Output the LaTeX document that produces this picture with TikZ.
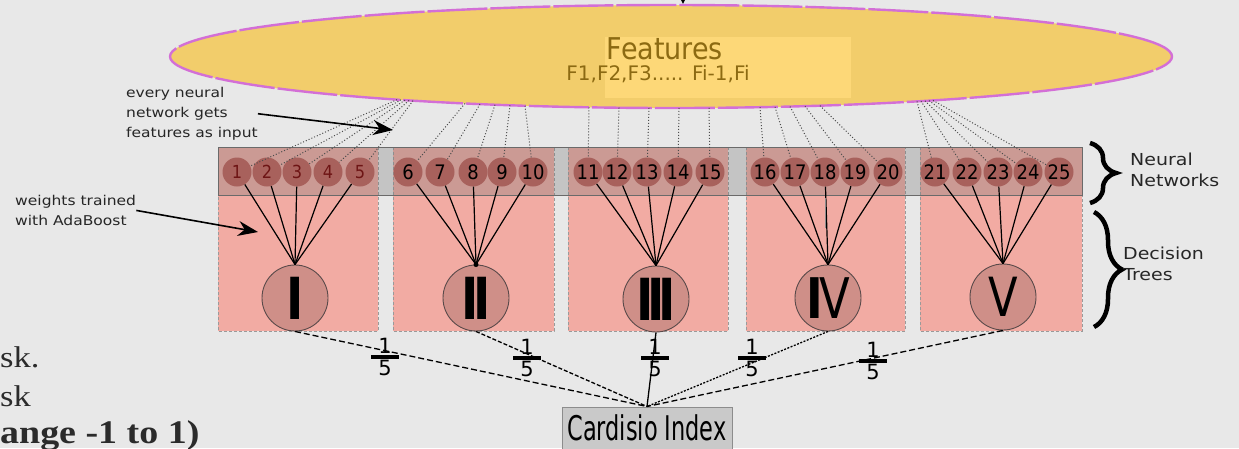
\documentclass[tikz,border=0pt]{standalone}
\usepackage{fontspec}
\setmainfont{DejaVu Sans}
\newfontfamily\annfont[FakeStretch=1.15]{DejaVu Sans}
\newfontfamily\condfont[FakeStretch=0.9]{DejaVu Sans}
\newfontfamily\romfont[FakeStretch=0.8]{DejaVu Sans}
\newfontfamily\tallfont[FakeStretch=0.66]{DejaVu Sans}
\newfontfamily\slidefont[FakeStretch=1.15]{Liberation Serif}
\usetikzlibrary{arrows.meta,decorations.pathreplacing,calc,shapes.geometric}
\definecolor{bgc}{HTML}{E8E8E8}
\definecolor{ellfill}{HTML}{F2CD6B}
\definecolor{ellline}{HTML}{D36FD6}
\definecolor{hlc}{HTML}{FDD878}
\definecolor{feattext}{HTML}{8C6A12}
\definecolor{treebg}{HTML}{F2ABA3}
\definecolor{boxline}{HTML}{9A9A9A}
\definecolor{stripline}{HTML}{6A6A6A}
\definecolor{nnfill}{HTML}{A8615C}
\definecolor{nnred}{HTML}{6E1515}
\definecolor{treefill}{HTML}{CF8F88}
\definecolor{treeline}{HTML}{5A4A4A}
\definecolor{idxfill}{HTML}{C9C9C9}
\definecolor{idxline}{HTML}{8C8C8C}
\definecolor{slidetext}{HTML}{2B2B2B}
\tikzset{
  treebox/.style={fill=treebg, draw=boxline, densely dashed, line width=0.8pt},
  nn/.style={circle, fill=nnfill, inner sep=0pt, minimum size=29pt,
    font=\condfont\fontsize{20}{20}\selectfont},
  tree/.style={circle, fill=treefill, draw=treeline, line width=0.9pt, inner sep=0pt,
    minimum size=66pt},
  wire/.style={line width=1.2pt, black},
  featline/.style={dotted, line width=1pt, black!70},
  annot/.style={font=\annfont\fontsize{13.5}{20}\selectfont, text=black!85, align=left,
    inner sep=0pt},
  bigarrow/.style={line width=1.6pt, -{Stealth[length=20pt,width=15pt]}},
  curly/.style={decorate, decoration={brace, amplitude=#1}, line width=4.5pt},
  digit/.style={font=\fontsize{21}{21}\selectfont, inner sep=0pt},
  sumline/.style={line width=1.3pt},
}
\begin{document}
\begin{tikzpicture}[x=1pt,y=-1pt]
\useasboundingbox (0,0) rectangle (1239,448);
\fill[bgc] (0,0) rectangle (1239,448);

% features ellipse
\node[draw=ellline, fill=ellfill, line width=2.4pt, dash pattern=on 60pt off 3pt,
  ellipse, minimum width=1002pt, minimum height=103pt, inner sep=0pt] (feat) at (671,56.5) {};
\fill[hlc] (605,37) rectangle (851,98);
\node[font=\condfont\fontsize{30}{30}\selectfont, text=feattext, inner sep=0pt] (ftitle) at (665,49) {Features};
\node[font=\fontsize{20}{20}\selectfont, text=feattext, inner sep=0pt] (flist) at (658,74) {F1,F2,F3..... Fi-1,Fi};
\coordinate (topin) at (683,-12);
\draw[line width=1.2pt, -{Stealth[length=7pt,width=7pt]}] (topin) -- (feat.north -| topin);

% boxes
\foreach \l/\r in {218/378, 393/554, 568/728, 746/905, 920/1082}{
  \draw[treebox] (\l,147) rectangle (\r,331);
}
% neural network strip
\fill[black!55, opacity=0.3] (218,147) rectangle (1082,195);
\draw[stripline, line width=1pt] (218,147) rectangle (1082,195);

% neural nodes
\foreach \x [count=\k] in {237,267,297,328,360}{
  \node[nn, text=nnred, font=\condfont\fontsize{18}{18}\selectfont] (n\k) at (\x,172) {\k};
}
\foreach \x [count=\k from 6] in {408,440,473,502,533, 588,617,647,678,710, 765,795,825,855,888, 935,967,998,1028,1059}{
  \node[nn] (n\k) at (\x,172) {\k};
}

% decision tree nodes
\node[tree] (t1) at (295,298) {};
\node[tree] (t2) at (476,298) {};
\node[tree] (t3) at (656,299) {};
\node[tree] (t4) at (828,298) {};
\node[tree] (t5) at (1003,297) {};
\node[font=\romfont\bfseries\fontsize{58}{58}\selectfont, inner sep=0pt] at (t1) {I};
\node[font=\romfont\bfseries\fontsize{58}{58}\selectfont, inner sep=0pt] at (t2) {I\kern-6pt I};
\node[font=\romfont\bfseries\fontsize{58}{58}\selectfont, inner sep=0pt] at (t3) {I\kern-6pt I\kern-6pt I};
\node[font=\romfont\fontsize{56}{56}\selectfont, inner sep=0pt] at (t4) {{\bfseries I}\kern-4pt V};
\node[font=\romfont\fontsize{54}{54}\selectfont, inner sep=0pt] at (t5) {V};

% features to neural nodes (dotted)
\foreach \bx/\cx/\sx in {1/405/4, 2/495/15, 3/649/30, 4/790/15, 5/925/4}{
  \foreach \jx in {1,...,5}{
    \pgfmathtruncatemacro\kk{(\bx-1)*5+\jx}
    \pgfmathsetmacro\xs{\cx+(\jx-3)*\sx}
    \pgfmathsetmacro\ys{56.5+51.5*sqrt(1-((\xs-671)/501)*((\xs-671)/501))}
    \coordinate (src\kk) at (\xs,\ys);
    \draw[featline] (src\kk) -- (n\kk);
  }
}

% neural nodes to trees
\foreach \bx in {1,...,5}{
  \foreach \jx in {1,...,5}{
    \pgfmathtruncatemacro\kk{(\bx-1)*5+\jx}
    \draw[wire] (n\kk) -- (t\bx.north);
  }
}
\fill (t2.north) circle (2.5pt);
\coordinate (stub) at (825,228);
\draw[black!45, line width=0.8pt] ($(n18.south)+(0,11)$) -- (stub);

% trees to index
\node[fill=idxfill, draw=idxline, line width=1pt, minimum width=170pt, minimum height=42pt,
  inner sep=0pt, font=\tallfont\fontsize{34}{34}\selectfont] (idx) at (647,428) {Cardisio Index};
\draw[sumline, dash pattern=on 6pt off 3pt] (t1.south) -- (idx.north);
\draw[sumline, dash pattern=on 4pt off 2pt] (t2.south) -- (idx.north);
\draw[sumline] (t3.south) -- (idx.north);
\draw[sumline, dash pattern=on 2pt off 1.5pt] (t4.south) -- (idx.north);
\draw[sumline, dash pattern=on 6pt off 3pt] (t5.south) -- (idx.north);
\foreach \x/\y [count=\k] in {385/357, 527/358, 655/358, 752/358, 873/361}{
  \node[digit, anchor=south] (fa\k) at (\x,\y-3) {1};
  \fill (\x-14,\y-2) rectangle (\x+14,\y+2);
  \node[digit, anchor=north] (fb\k) at (\x,\y+3) {5};
}

% annotations
\node[annot, anchor=north west] (note1) at (126,87) {every neural\\network gets\\features as input};
\coordinate (note1tip) at (393,130);
\draw[bigarrow] (note1.east) -- (note1tip);
\node[annot, anchor=north west] (note2) at (15,195) {weights trained\\with AdaBoost};
\coordinate (note2tip) at (258,232);
\draw[bigarrow] (note2.east) -- (note2tip);

% braces
\draw[curly=26pt] (1090,143) -- (1090,203);
\draw[curly=28pt] (1094,212) -- (1094,327);
\node[annot, font=\annfont\fontsize{16.5}{21}\selectfont, anchor=north west] (lblnn) at (1130,153) {Neural\\Networks};
\node[annot, font=\annfont\fontsize{16.5}{21}\selectfont, anchor=north west] (lbldt) at (1123,247) {Decision\\Trees};

% cut-off slide text
\node[font=\slidefont\fontsize{30}{30}\selectfont, text=slidetext, anchor=base west, inner sep=0pt] (s1) at (0,367) {sk.};
\node[font=\slidefont\fontsize{30}{30}\selectfont, text=slidetext, anchor=base west, inner sep=0pt] (s2) at (0,406) {sk};
\node[font=\slidefont\bfseries\fontsize{33}{33}\selectfont, text=slidetext, anchor=base west, inner sep=0pt] (s3) at (0,443) {ange -1 to 1)};
\end{tikzpicture}
\end{document}
